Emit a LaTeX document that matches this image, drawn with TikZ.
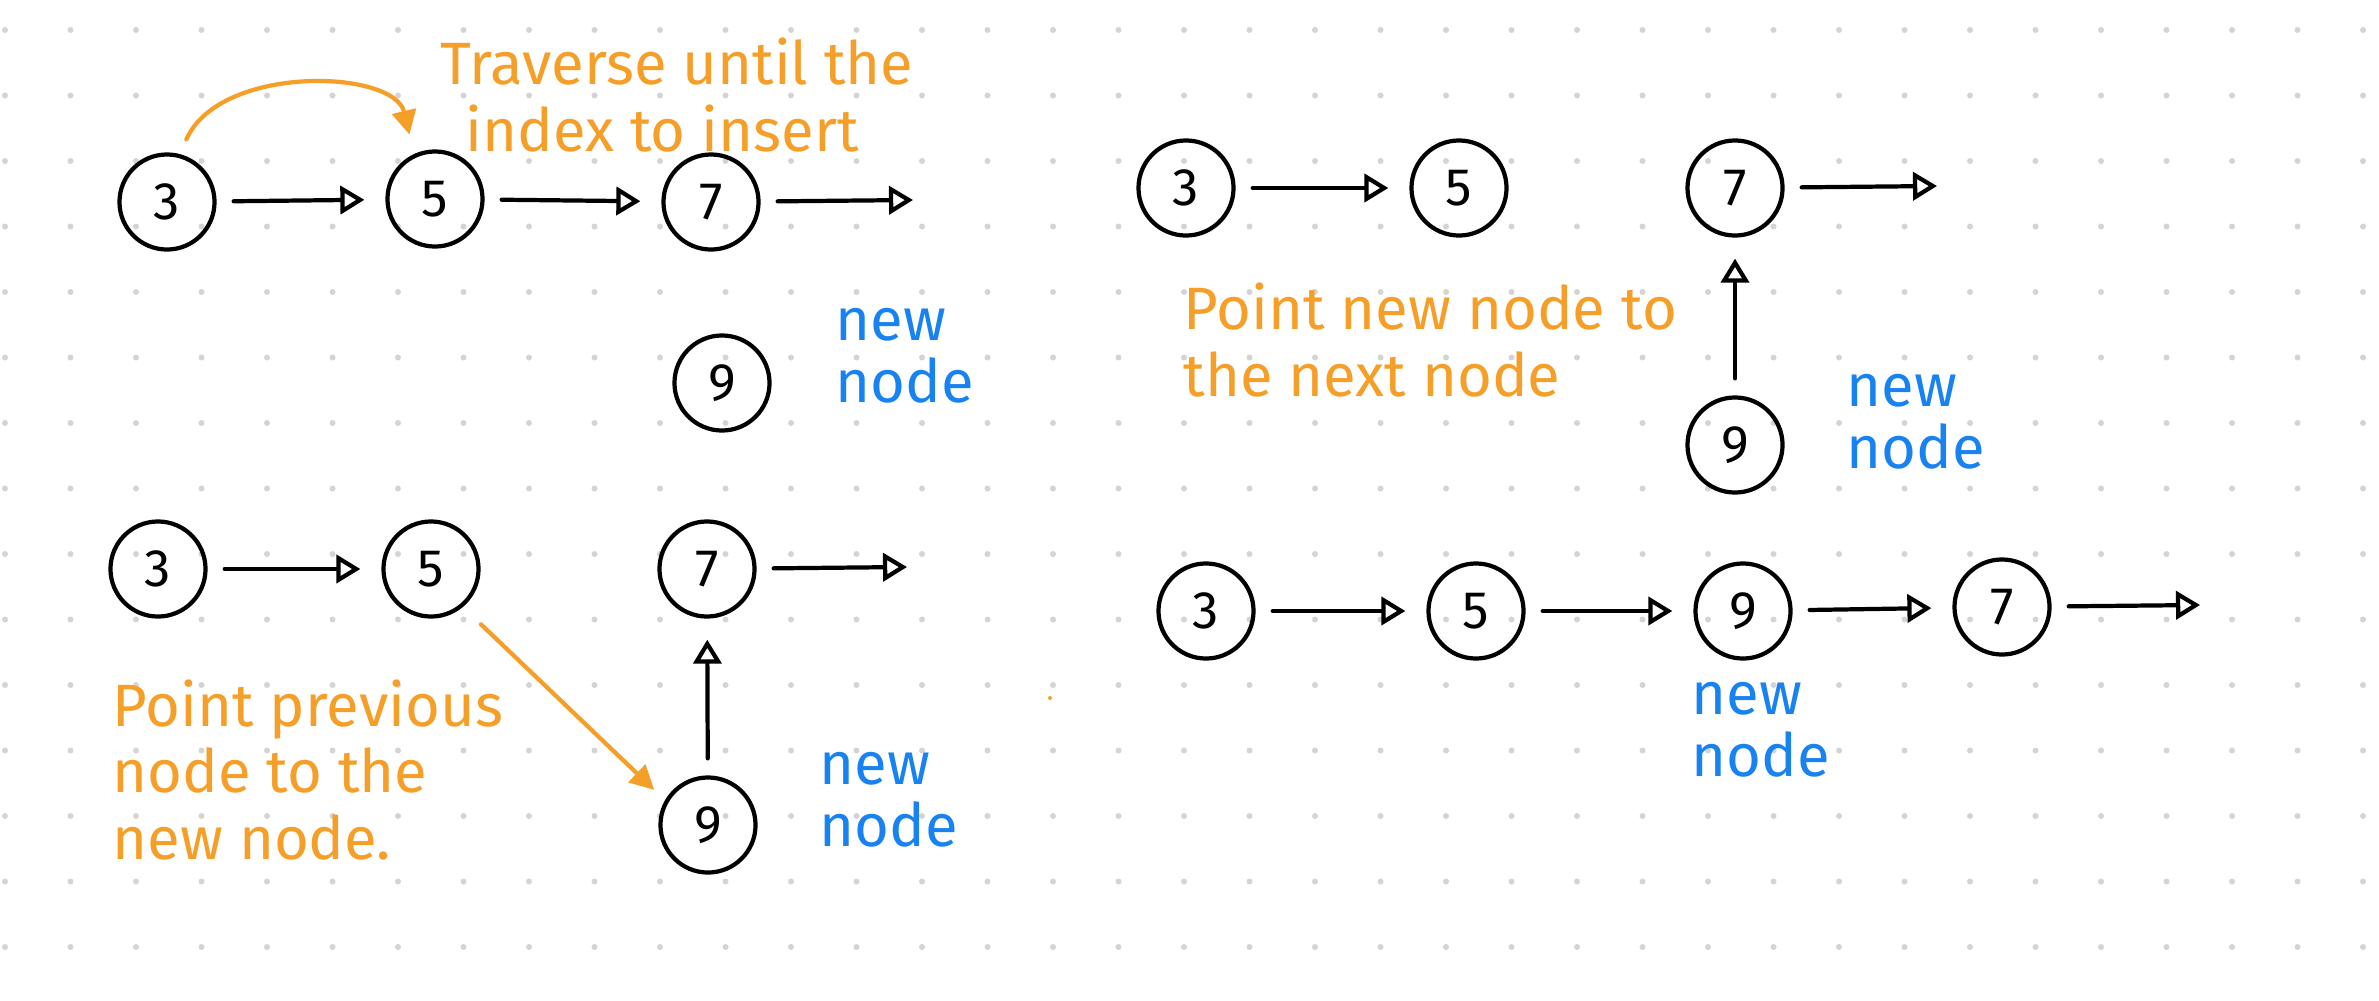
\documentclass[tikz,border=0pt]{standalone}
\usepackage{fontspec}
\setmainfont{Fira Sans}
\usetikzlibrary{arrows.meta}
\tikzstyle{canvas} = [x = 0.01cm, y = -0.01cm]
\definecolor{dotColor}{RGB}{212,212,212}
\definecolor{noteOrange}{RGB}{245,158,40}
\definecolor{noteBlue}{RGB}{24,130,240}
\tikzstyle{listNode} = [draw=black, circle, line width=1.2pt, minimum size=0.95cm, inner sep=0pt, font=\fontsize{15}{15}\selectfont]
\tikzstyle{linkArrow} = [draw=black, line width=1.2pt, line cap=round, -{Triangle[open, length=0.24cm, width=0.28cm, line width=1.2pt]}]
\tikzstyle{noteArrow} = [draw=noteOrange, line width=1.2pt, line cap=round, -{Triangle[length=0.24cm, width=0.24cm]}]
\tikzstyle{noteText} = [text=noteOrange, align=left, anchor=west, inner sep=0pt, font=\fontsize{17}{19}\selectfont]
\tikzstyle{newText} = [text=noteBlue, align=left, anchor=west, inner sep=0pt, font=\fontsize{17}{17.5}\selectfont]
\newcommand{\gridDots}[2]{
  \foreach \column in {0,...,#1} {
    \foreach \row in {0,...,#2} {
      \fill [dotColor] (5 + 65.5 * \column, 30 + 65.5 * \row) circle (0.03cm);
    }
  }
}
\newcommand{\link}[2]{\draw [linkArrow, shorten <= 0.17cm, shorten >= 0.21cm] (#1) -- (#2);}
\newcommand{\tailLink}[2]{\draw [linkArrow, shorten <= 0.17cm] (#1) -- (#2);}
\begin{document}
\begin{tikzpicture}[canvas]
  \fill [white] (0,0) rectangle (2379,1000);
  \useasboundingbox (0,0) rectangle (2379,1000);
  \gridDots{36}{14}

  % traverse
  \node [listNode] (tl3) at (167,202) {3};
  \node [listNode] (tl5) at (435,199) {5};
  \node [listNode] (tl7) at (711,202) {7};
  \node [listNode] (tl9) at (722,383) {9};
  \coordinate (tlEnd) at (913,200);
  \link{tl3}{tl5}
  \link{tl5}{tl7}
  \tailLink{tl7}{tlEnd}
  \draw [noteArrow, shorten <= 0.16cm, shorten >= 0.2cm] (tl3.75) .. controls +(40,-90) and +(-20,-85) .. (tl5.115);
  \node [noteText] (tlNote) at (440,95) {Traverse until the\\\hspace*{0.25cm}index to insert};
  \node [newText] (tlNew) at (835,356) {new\\node};

  % point new node to next
  \node [listNode] (tr3) at (1186,188) {3};
  \node [listNode] (tr5) at (1459,188) {5};
  \node [listNode] (tr7) at (1735,188) {7};
  \node [listNode] (tr9) at (1735,445) {9};
  \coordinate (trEnd) at (1937,186);
  \link{tr3}{tr5}
  \tailLink{tr7}{trEnd}
  \link{tr9}{tr7}
  \node [noteText] (trNote) at (1183,340) {Point new node to\\the next node};
  \node [newText] (trNew) at (1846,422) {new\\node};

  % point previous node to new
  \node [listNode] (bl3) at (158,569) {3};
  \node [listNode] (bl5) at (431,569) {5};
  \node [listNode] (bl7) at (707,569) {7};
  \node [listNode] (bl9) at (708,825) {9};
  \coordinate (blEnd) at (907,567);
  \link{bl3}{bl5}
  \tailLink{bl7}{blEnd}
  \link{bl9}{bl7}
  \draw [noteArrow, shorten <= 0.25cm, shorten >= 0.15cm] (bl5.-50) -- (bl9.150);
  \node [noteText] (blNote) at (112,770) {Point previous\\node to the\\new node.};
  \node [newText] (blNew) at (819,800) {new\\node};
  \fill [noteOrange] (1050,698) circle (0.02cm);

  % result
  \node [listNode] (br3) at (1206,611) {3};
  \node [listNode] (br5) at (1476,611) {5};
  \node [listNode] (br9) at (1743,611) {9};
  \node [listNode] (br7) at (2002,607) {7};
  \coordinate (brEnd) at (2200,605);
  \link{br3}{br5}
  \link{br5}{br9}
  \link{br9}{br7}
  \tailLink{br7}{brEnd}
  \node [newText] (brNew) at (1691,730) {new\\node};
\end{tikzpicture}
\end{document}
